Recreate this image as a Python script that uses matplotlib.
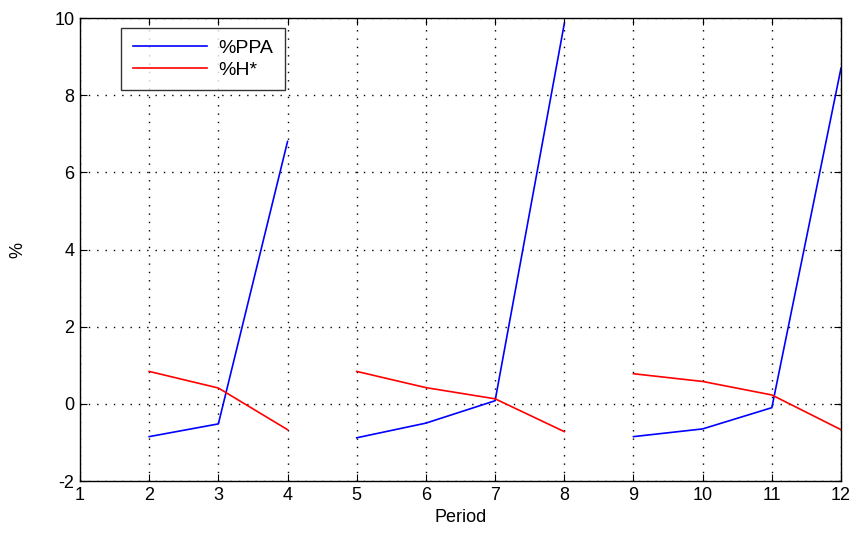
import numpy as np
import matplotlib
matplotlib.use("Agg")
import matplotlib.pyplot as plt

plt.rcParams["font.family"] = ["Liberation Sans", "DejaVu Sans"]
plt.rcParams["axes.unicode_minus"] = False

periods = [1, 2, 3, 4, 5, 6, 7, 8, 9, 10, 11, 12]
ppa = [np.nan, -0.85, -0.52, 6.8, -0.88, -0.5, 0.08, 9.85, -0.85, -0.65, -0.1, 8.7]
h_star = [np.nan, 0.84, 0.41, -0.67, 0.84, 0.42, 0.13, -0.72, 0.78, 0.58, 0.23, -0.67]
# segments (gaps between blocks)
segments = [(1, 4), (4, 8), (8, 12)]

fig = plt.figure(figsize=(8.56, 5.35), dpi=100)
ax = fig.add_axes([80/856, 1-481/535, (841-80)/856, (481-18)/535])

first = True
for a, b in segments:
    x = periods[a:b]
    ax.plot(x, ppa[a:b], color="#0000ff", lw=1.2, label="%PPA" if first else None)
    ax.plot(x, h_star[a:b], color="#ff0000", lw=1.2, label="%H*" if first else None)
    first = False

ax.set_xlim(1, 12)
ax.set_ylim(-2, 10)
ax.set_xticks(range(1, 13))
ax.set_yticks(range(-2, 11, 2))
ax.grid(True, color="black", linestyle=(0, (1, 5)), linewidth=1.0)
ax.tick_params(direction="in", top=True, right=True, labelsize=13, length=5, pad=4)
for s in ax.spines.values():
    s.set_linewidth(1.0)
ax.set_xlabel("Period", fontsize=13, labelpad=4)
ax.set_ylabel("%", fontsize=13, labelpad=20)
leg = ax.legend(loc="upper left", bbox_to_anchor=((121-80)/761, (481-28)/463),
                borderaxespad=0, fontsize=14,
                frameon=True, fancybox=False, edgecolor="black", handlelength=3.8,
                borderpad=0.6, labelspacing=0.2, handletextpad=0.6)
leg.get_frame().set_linewidth(1.0)

fig.savefig("out.png", dpi=100)
